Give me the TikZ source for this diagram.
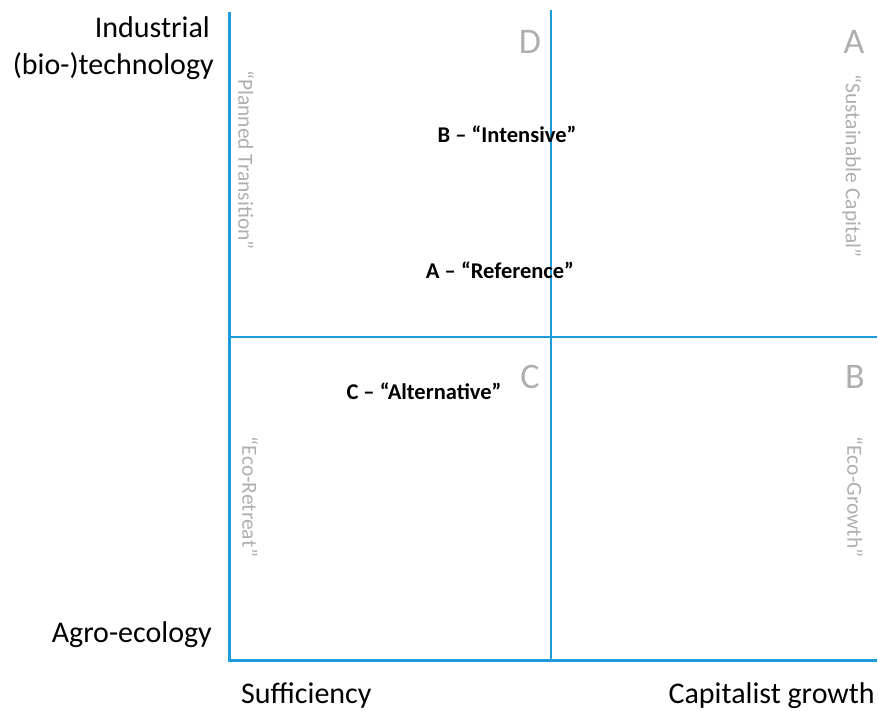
\documentclass[tikz,border=0pt]{standalone}
\usepackage{fontspec}
\setmainfont{Carlito}
\usepackage{tikz}
\usetikzlibrary{positioning}
\definecolor{axisblue}{RGB}{30,155,220}
\definecolor{quadgray}{RGB}{175,175,175}

\begin{document}
\begin{tikzpicture}[x=1pt,y=-1pt,
  axis/.style={axisblue,line width=3pt},
  split/.style={axisblue,line width=1.6pt},
  axislabel/.style={font=\fontsize{30}{34}\selectfont,inner sep=0pt},
  quadletter/.style={quadgray,font=\fontsize{36}{40}\selectfont,inner sep=0pt},
  quadname/.style={quadgray,font=\fontsize{21.5}{24}\selectfont,inner sep=0pt,rotate=-90},
  scenario/.style={font=\bfseries\fontsize{22.5}{26}\selectfont,inner sep=0pt}]
 \useasboundingbox (0,0) rectangle (878,711);
 % frame corners
 \coordinate (top) at (229,12);
 \coordinate (origin) at (229,660);
 \coordinate (right) at (877,660);
 \coordinate (midtop) at (551,10);
 \coordinate (midbot) at (551,660);
 \coordinate (midleft) at (229,337);
 \coordinate (midright) at (877,337);
 \draw[split] (midtop) -- (midbot);
 \draw[split] (midleft) -- (midright);
 \draw[axis] (top) -- (origin) -- (right);
 % axis labels
 \node[axislabel,anchor=east] (indus) at (210,27) {Industrial};
 \node[axislabel,anchor=east] (biotech) at (214,66) {(bio-)technology};
 \node[axislabel,anchor=east] (agro) at (212,635) {Agro-ecology};
 \node[axislabel,anchor=west] (suff) at (241,696) {Sufficiency};
 \node[axislabel,anchor=east] (growth) at (875,696) {Capitalist growth};
 % quadrants
 \node[quadletter] (qD) at (530,42) {D};
 \node[quadletter] (qA) at (854,42) {A};
 \node[quadletter] (qC) at (530,377) {C};
 \node[quadletter] (qB) at (855,377) {B};
 \node[quadname] (planned) at (246,160) {“Planned Transition”};
 \node[quadname] (sustain) at (852,166) {“Sustainable Capital”};
 \node[quadname] (retreat) at (250,497) {“Eco-Retreat”};
 \node[quadname] (ecogrowth) at (855,497) {“Eco-Growth”};
 % scenarios
 \node[scenario] (intensive) at (507,134) {B – “Intensive”};
 \node[scenario] (reference) at (500,270) {A – “Reference”};
 \node[scenario] (alternative) at (424,391) {C – “Alternative”};
\end{tikzpicture}
\end{document}
